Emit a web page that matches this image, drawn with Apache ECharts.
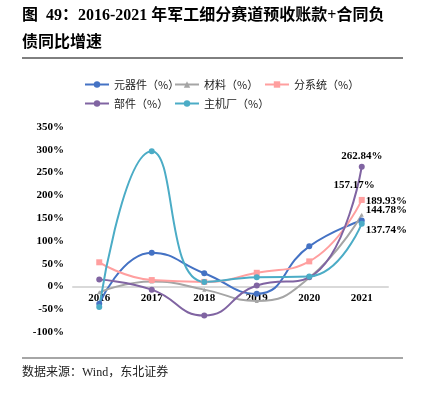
<!DOCTYPE html>
<html><head><meta charset="utf-8">
<script src="https://cdn.jsdelivr.net/npm/echarts@6/dist/echarts.min.js"></script>
<style>html,body{margin:0;padding:0;background:#fff}#c{width:428px;height:399px}</style>
</head><body><div id="c"></div>
<script>
const years = ['2016','2017','2018','2019','2020','2021'];
const yTicks = [-100, 350, 50];
const yuanqijian = [-38, 74, 29, -16, 88, 144.78];
const cailiao = [-13, 11, -7, -32, 19, 157.17];
const fenxitong = [53, 14, 10, 30, 55, 189.93];
const bujian = [15, -7, -64, 2, 20, 262.84];
const zhujichang = [-45, 297, 10, 20, 22, 137.74];

const serif = '"Liberation Serif","Noto Sans CJK SC",serif';
const cjk = '"Noto Sans CJK SC","Liberation Serif",serif';

function mk(name, data, color, symbol, lbl) {
  return {
    name, type: 'line', data, smooth: true, symbol, symbolSize: symbol === 'triangle' ? 4 : 6,
    lineStyle: { color, width: 2 }, itemStyle: { color },
    label: {
      show: true, fontFamily: serif, fontWeight: 'bold', fontSize: 11, color: '#000',
      formatter: p => p.dataIndex === 5 ? p.value.toFixed(2) + '%' : '',
      position: lbl.pos, offset: lbl.off
    }
  };
}
function lg(name, left, top) {
  return { data: [name], left, top, itemWidth: 24, itemHeight: 8, itemGap: 4,
    textStyle: { fontFamily: cjk, fontSize: 11, color: '#222' }, padding: 0 };
}
const gridBottom = 67, plotH = 399 - 127 - gridBottom;
const zeroOffset = -plotH * (0 - yTicks[0]) / (yTicks[1] - yTicks[0]);
const chart = echarts.init(document.getElementById('c'));
chart.setOption({
  animation: false,
  grid: { left: 73, right: 40, top: 127, bottom: gridBottom },
  legend: [
    lg('元器件（%）', 84, 79), lg('材料（%）', 174, 79), lg('分系统（%）', 264, 79),
    lg('部件（%）', 84, 98), lg('主机厂（%）', 174, 98)
  ],
  xAxis: {
    type: 'category', data: years, boundaryGap: true, offset: zeroOffset,
    axisLine: { onZero: false, lineStyle: { color: '#d9d9d9', width: 2 } },
    axisTick: { show: false },
    axisLabel: { fontFamily: serif, fontWeight: 'bold', fontSize: 11, color: '#000', margin: 6 },
    z: 0
  },
  yAxis: {
    type: 'value', min: yTicks[0], max: yTicks[1], interval: yTicks[2],
    splitLine: { show: false }, axisLine: { show: false }, axisTick: { show: false },
    axisLabel: { formatter: '{value}%', fontFamily: serif, fontWeight: 'bold', fontSize: 11, color: '#000', margin: 9 }
  },
  series: [
    mk('元器件（%）', yuanqijian, '#4472c4', 'circle', { pos: 'right', off: [-4, -10] }),
    mk('材料（%）', cailiao, '#a5a5a5', 'triangle', { pos: 'left', off: [20, -30] }),
    mk('分系统（%）', fenxitong, '#ff9f9f', 'rect', { pos: 'right', off: [-4, 1] }),
    mk('部件（%）', bujian, '#8064a2', 'circle', { pos: 'top', off: [0, 3] }),
    mk('主机厂（%）', zhujichang, '#4bacc6', 'circle', { pos: 'right', off: [-4, 6] })
  ],
  graphic: [
    { type: 'text', left: 22, top: 8, style: { text: '图  49：2016-2021 年军工细分赛道预收账款+合同负', font: 'bold 16px ' + serif, fill: '#000' } },
    { type: 'text', left: 22, top: 35, style: { text: '债同比增速', font: 'bold 16px ' + serif, fill: '#000' } },
    { type: 'line', shape: { x1: 22, y1: 58, x2: 403, y2: 58 }, style: { stroke: '#000', lineWidth: 1 } },
    { type: 'line', shape: { x1: 22, y1: 358, x2: 403, y2: 358 }, style: { stroke: '#888', lineWidth: 1.5 } },
    { type: 'text', left: 22, top: 367, style: { text: '数据来源：Wind，东北证券', font: '12px ' + serif, fill: '#222' } }
  ]
});
</script></body></html>
